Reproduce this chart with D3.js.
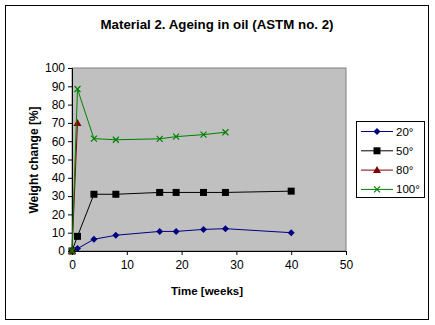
<!DOCTYPE html>
<html>
<head>
<meta charset="utf-8">
<script src="https://cdn.jsdelivr.net/npm/d3@7.9.0/dist/d3.min.js"></script>
<style>
  body { margin: 0; background: #fff; }
  text { font-family: "Liberation Sans", Arial, sans-serif; }
</style>
</head>
<body>
<svg width="435" height="325"></svg>
<script>
const weeks20 = [0, 1, 4, 8, 16, 19, 24, 28, 40];
const vals20 = [0, 1.3, 6.4, 8.6, 10.7, 10.7, 11.8, 12.2, 10.0];
const weeks50 = [0, 1, 4, 8, 16, 19, 24, 28, 40];
const vals50 = [0, 8, 31, 31, 32, 32, 32, 32, 32.7];
const weeks80 = [0, 1];
const vals80 = [0, 70];
const weeks100 = [0, 1, 4, 8, 16, 19, 24, 28];
const vals100 = [0, 88.5, 61.4, 60.8, 61.3, 62.5, 63.6, 64.9];
const seriesNames = ['20°', '50°', '80°', '100°'];
const xTicks = [0, 10, 20, 30, 40, 50];
const yTicks = [0, 10, 20, 30, 40, 50, 60, 70, 80, 90, 100];

const series = [
  { name: seriesNames[0], x: weeks20, y: vals20, color: '#000080', marker: 'diamond' },
  { name: seriesNames[1], x: weeks50, y: vals50, color: '#000000', marker: 'square' },
  { name: seriesNames[2], x: weeks80, y: vals80, color: '#800000', marker: 'triangle' },
  { name: seriesNames[3], x: weeks100, y: vals100, color: '#008000', marker: 'x' },
];

const svg = d3.select('svg');

// outer chart border
svg.append('rect')
  .attr('x', 5.5).attr('y', 5.5)
  .attr('width', 423).attr('height', 314)
  .attr('fill', '#fff').attr('stroke', '#000');

const plot = { left: 72, right: 346, top: 68, bottom: 251 };
const x = d3.scaleLinear().domain([0, 50]).range([plot.left, plot.right]);
const y = d3.scaleLinear().domain([0, 100]).range([plot.bottom, plot.top]);

svg.append('rect')
  .attr('x', plot.left).attr('y', plot.top)
  .attr('width', plot.right - plot.left).attr('height', plot.bottom - plot.top)
  .attr('fill', '#c0c0c0').attr('stroke', '#808080');

svg.append('text')
  .attr('x', 217).attr('y', 29)
  .attr('text-anchor', 'middle')
  .attr('font-size', 13.3).attr('font-weight', 'bold')
  .text('Material 2. Ageing in oil (ASTM no. 2)');

const yAxis = svg.append('g')
  .attr('transform', `translate(${plot.left},0)`)
  .call(d3.axisLeft(y).tickValues(yTicks).tickSize(4).tickPadding(3));
const xAxis = svg.append('g')
  .attr('transform', `translate(0,${plot.bottom})`)
  .call(d3.axisBottom(x).tickValues(xTicks).tickSize(4).tickPadding(5));

[xAxis, yAxis].forEach((g) => {
  g.select('.domain').attr('stroke', '#000');
  g.selectAll('.tick line').attr('stroke', '#000');
  g.selectAll('.tick text')
    .attr('font-family', '"Liberation Sans", Arial, sans-serif')
    .attr('font-size', 12).attr('fill', '#000');
});

svg.append('text')
  .attr('x', 207).attr('y', 295)
  .attr('text-anchor', 'middle')
  .attr('font-size', 11.5).attr('font-weight', 'bold')
  .text('Time [weeks]');

svg.append('text')
  .attr('transform', 'translate(38,160) rotate(-90)')
  .attr('text-anchor', 'middle')
  .attr('font-size', 12).attr('font-weight', 'bold')
  .text('Weight change [%]');

function drawMarker(g, type, cx, cy, color) {
  if (type === 'diamond') {
    g.append('path')
      .attr('d', `M${cx},${cy - 3.5}L${cx + 3.5},${cy}L${cx},${cy + 3.5}L${cx - 3.5},${cy}Z`)
      .attr('fill', color);
  } else if (type === 'square') {
    g.append('rect')
      .attr('x', cx - 3.5).attr('y', cy - 3.5)
      .attr('width', 7).attr('height', 7)
      .attr('fill', color);
  } else if (type === 'triangle') {
    g.append('path')
      .attr('d', `M${cx},${cy - 4}L${cx + 4},${cy + 3}L${cx - 4},${cy + 3}Z`)
      .attr('fill', color);
  } else {
    g.append('path')
      .attr('d', `M${cx - 3},${cy - 3}L${cx + 3},${cy + 3}M${cx - 3},${cy + 3}L${cx + 3},${cy - 3}`)
      .attr('stroke', color).attr('stroke-width', 1.2).attr('fill', 'none');
  }
}

const line = d3.line().x((d) => x(d[0])).y((d) => y(d[1]));

series.forEach((s) => {
  const pts = s.x.map((v, i) => [v, s.y[i]]);
  const g = svg.append('g');
  g.append('path')
    .attr('d', line(pts))
    .attr('fill', 'none').attr('stroke', s.color).attr('stroke-width', 1);
  pts.forEach((p) => drawMarker(g, s.marker, x(p[0]), y(p[1]), s.color));
});

// legend
const legend = svg.append('g');
legend.append('rect')
  .attr('x', 356.5).attr('y', 121.5)
  .attr('width', 68).attr('height', 76)
  .attr('fill', '#fff').attr('stroke', '#000');

series.forEach((s, i) => {
  const ly = 131.5 + i * 19.3;
  legend.append('line')
    .attr('x1', 361).attr('x2', 393).attr('y1', ly).attr('y2', ly)
    .attr('stroke', s.color);
  drawMarker(legend, s.marker, 377, ly, s.color);
  legend.append('text')
    .attr('x', 396).attr('y', ly + 4)
    .attr('font-size', 11.5)
    .text(s.name);
});
</script>
</body>
</html>
